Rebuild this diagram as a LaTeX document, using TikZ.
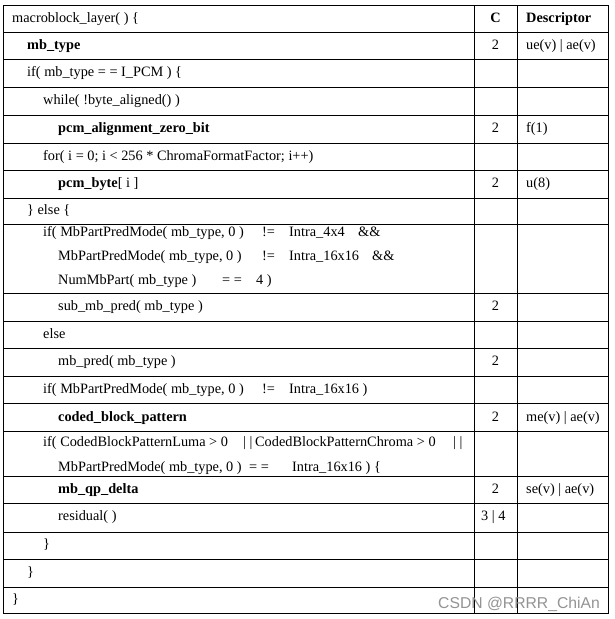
\documentclass[tikz,border=0pt]{standalone}
\usepackage{fontspec}
\setmainfont{Liberation Serif}
\newfontfamily\wmfont{Liberation Sans}
\begin{document}
\begin{tikzpicture}[x=1pt,y=-1pt,
  txt/.style={inner sep=0pt,anchor=base west,font=\fontsize{14.3}{17}\selectfont},
  btxt/.style={txt,font=\fontsize{14.3}{17}\selectfont\bfseries},
  ctxt/.style={inner sep=0pt,anchor=base,font=\fontsize{14.3}{17}\selectfont},
  grid/.style={line width=1pt,black}]
\useasboundingbox[fill=white] (0,0) rectangle (614,619);
% table frame and rules
\draw[grid] (3,5) rectangle (608,613);
\draw[grid] (474,5) -- (474,613);
\draw[grid] (517,5) -- (517,613);
\foreach \y in {32,59,87,115,143,170,198,224,293,321,348,376,403,431,476,503,532,559,587}
  \draw[grid] (3,\y) -- (608,\y);
% row 1
\node[txt] (t1) at (12,22) {macroblock\_layer( ) \{};
\node[ctxt,font=\fontsize{14.3}{17}\selectfont\bfseries] (c1) at (495.5,22) {C};
\node[btxt] (d1) at (526,22) {Descriptor};
% row 2
\node[btxt] (t2) at (27,49) {mb\_type};
\node[ctxt] (c2) at (495.5,49) {2};
\node[txt] (d2) at (526,49) {ue(v) | ae(v)};
% row 3
\node[txt] (t3) at (27,76) {if( mb\_type = = I\_PCM ) \{};
% row 4
\node[txt] (t4) at (43,104) {while( !byte\_aligned() )};
% row 5
\node[btxt] (t5) at (58,132) {pcm\_alignment\_zero\_bit};
\node[ctxt] (c5) at (495.5,132) {2};
\node[txt] (d5) at (526,132) {f(1)};
% row 6
\node[txt] (t6) at (43,160) {for( i = 0; i < 256 * ChromaFormatFactor; i++)};
% row 7
\node[txt] (t7) at (58,187) {\textbf{pcm\_byte}[ i ]};
\node[ctxt] (c7) at (495.5,187) {2};
\node[txt] (d7) at (526,187) {u(8)};
% row 8
\node[txt] (t8) at (27,214) {\} else \{};
% row 9
\node[txt] (t9a) at (43,236) {\makebox[219pt][l]{if( MbPartPredMode( mb\_type, 0 )}\makebox[27pt][l]{!=}\makebox[69pt][l]{Intra\_4x4}\&\&};
\node[txt] (t9b) at (58,260) {\makebox[204pt][l]{MbPartPredMode( mb\_type, 0 )}\makebox[27pt][l]{!=}\makebox[83pt][l]{Intra\_16x16}\&\&};
\node[txt] (t9c) at (58,284) {\makebox[164pt][l]{NumMbPart( mb\_type )}\makebox[34pt][l]{= =}4 )};
% row 10
\node[txt] (t10) at (58,310) {sub\_mb\_pred( mb\_type )};
\node[ctxt] (c10) at (495.5,310) {2};
% row 11
\node[txt] (t11) at (43,338) {else};
% row 12
\node[txt] (t12) at (58,365) {mb\_pred( mb\_type )};
\node[ctxt] (c12) at (495.5,365) {2};
% row 13
\node[txt] (t13) at (43,393) {\makebox[219pt][l]{if( MbPartPredMode( mb\_type, 0 )}\makebox[27pt][l]{!=}Intra\_16x16 )};
% row 14
\node[btxt] (t14) at (58,421) {coded\_block\_pattern};
\node[ctxt] (c14) at (495.5,421) {2};
\node[txt] (d14) at (526,421) {me(v) | ae(v)};
% row 15
\node[txt] (t15a) at (43,446) {\makebox[200pt][l]{if( CodedBlockPatternLuma > 0}\makebox[12pt][l]{| |}\makebox[198pt][l]{CodedBlockPatternChroma > 0}| |};
\node[txt] (t15b) at (58,471) {\makebox[191pt][l]{MbPartPredMode( mb\_type, 0 )}\makebox[43pt][l]{= =}Intra\_16x16 ) \{};
% row 16
\node[btxt] (t16) at (58,493) {mb\_qp\_delta};
\node[ctxt] (c16) at (495.5,493) {2};
\node[txt] (d16) at (526,493) {se(v) | ae(v)};
% row 17
\node[txt] (t17) at (58,520) {residual( )};
\node[txt] (c17) at (481,520) {3 | 4};
% rows 18-20
\node[txt] (t18) at (43,548) {\}};
\node[txt] (t19) at (27,576) {\}};
\node[txt] (t20) at (12,603) {\}};
% watermark
\node[inner sep=0pt,anchor=base west,font=\wmfont\fontsize{15.7}{18}\selectfont,text=black!42] (wm) at (438,608) {CSDN @RRRR\_ChiAn};
\end{tikzpicture}
\end{document}
